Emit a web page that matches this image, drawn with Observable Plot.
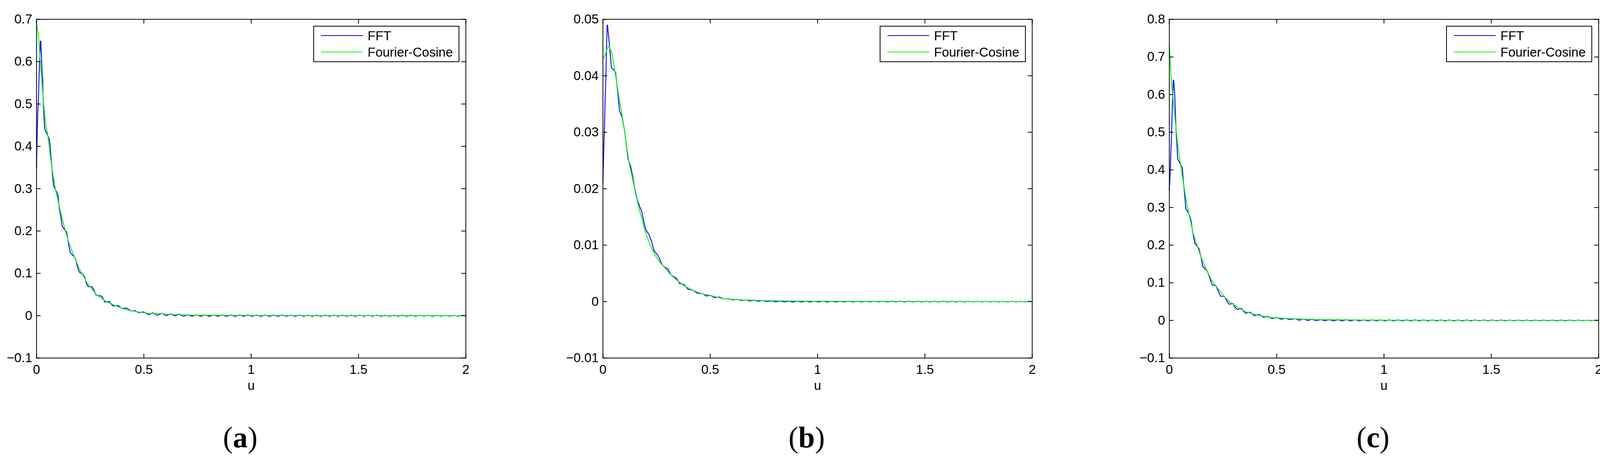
<!DOCTYPE html>
<html>
<head>
<meta charset="utf-8">
<script src="https://cdn.jsdelivr.net/npm/d3@7"></script>
<script src="https://cdn.jsdelivr.net/npm/@observablehq/plot@0.6"></script>
<style>
html, body { margin: 0; padding: 0; background: #fff; }
#root { position: relative; width: 4133px; height: 1180px; overflow: hidden; background: #fff; }
.panel { position: absolute; top: 0; width: 1450px; height: 1180px; }
.panel svg { position: absolute; left: 0; top: 0; }
.legend { position: absolute; left: 802px; top: 66px; width: 374px; height: 93px; box-sizing: border-box;
  border: 2px solid #000; background: #fff; font-family: "Liberation Sans", Arial, sans-serif; font-size: 33px; }
.legend .sw { position: absolute; left: 18px; width: 107px; height: 2px; }
.legend .lb { position: absolute; left: 137px; line-height: 33px; white-space: nowrap; color: #000; }
.caption { position: absolute; left: 0; width: 1230px; text-align: center; top: 1081px;
  font-family: "Liberation Serif", "Times New Roman", serif; font-size: 76px; line-height: 76px; color: #000; }
</style>
</head>
<body>
<div id="root"></div>
<script>
// ---------- shared ticks / labels ----------
const xTicks = [0, 0.5, 1, 1.5, 2];
const xTickLabels = ["0", "0.5", "1", "1.5", "2"];
const yTicksA = [-0.1, 0, 0.1, 0.2, 0.3, 0.4, 0.5, 0.6, 0.7];
const yTickLabelsA = ["\u22120.1", "0", "0.1", "0.2", "0.3", "0.4", "0.5", "0.6", "0.7"];
const yTicksB = [-0.01, 0, 0.01, 0.02, 0.03, 0.04, 0.05];
const yTickLabelsB = ["\u22120.01", "0", "0.01", "0.02", "0.03", "0.04", "0.05"];
const yTicksC = [-0.1, 0, 0.1, 0.2, 0.3, 0.4, 0.5, 0.6, 0.7, 0.8];
const yTickLabelsC = ["\u22120.1", "0", "0.1", "0.2", "0.3", "0.4", "0.5", "0.6", "0.7", "0.8"];
const xLabel = "u";
const seriesNames = ["FFT", "Fourier-Cosine"];
const seriesColors = ["#0000ff", "#00ff00"];
const panelLabels = ["a", "b", "c"];

// ---------- tail grid shared by all three FFT series ----------
const tailU = [
  0.585,0.605,0.625,0.645,0.665,0.685,0.705,0.725,0.745,0.765,
  0.785,0.805,0.825,0.845,0.865,0.885,0.905,0.925,0.945,0.965,
  0.985,1.005,1.025,1.045,1.065,1.085,1.105,1.125,1.145,1.165,
  1.185,1.205,1.225,1.245,1.265,1.285,1.305,1.325,1.345,1.365,
  1.385,1.405,1.425,1.445,1.465,1.485,1.505,1.525,1.545,1.565,
  1.585,1.605,1.625,1.645,1.665,1.685,1.705,1.725,1.745,1.765,
  1.785,1.805,1.825,1.845,1.865,1.885,1.905,1.925,1.945,1.965,
  1.985,2.0];

// ---------- panel (a) ----------
const uBlueA = [0, 0.003, 0.006, 0.009, 0.012, 0.015, 0.018, 0.020, 0.021, 0.023,
  0.026, 0.029, 0.030, 0.033, 0.036, 0.038, 0.046, 0.052, 0.058, 0.063,
  0.067, 0.073, 0.079, 0.085, 0.094, 0.100, 0.106, 0.113, 0.119, 0.131,
  0.140, 0.146, 0.152, 0.158, 0.173, 0.182, 0.192, 0.201, 0.216, 0.225,
  0.234, 0.240, 0.259, 0.268, 0.277, 0.295, 0.304, 0.319, 0.338, 0.344,
  0.356, 0.380, 0.398, 0.420, 0.441, 0.459, 0.477, 0.499, 0.522, 0.542, 0.562];
const vBlueA = [0.350, 0.428, 0.483, 0.511, 0.570, 0.603, 0.648, 0.649, 0.632, 0.616,
  0.575, 0.557, 0.524, 0.488, 0.460, 0.442, 0.432, 0.426, 0.419, 0.405,
  0.377, 0.341, 0.308, 0.301, 0.292, 0.285, 0.253, 0.235, 0.212, 0.203,
  0.198, 0.180, 0.161, 0.148, 0.141, 0.134, 0.113, 0.102, 0.098, 0.090,
  0.074, 0.069, 0.068, 0.060, 0.049, 0.047, 0.046, 0.032, 0.034, 0.030,
  0.023, 0.024, 0.017, 0.018, 0.011, 0.012, 0.007, 0.009, 0.0025, 0.0071, 0.0009];
const tailBlueA = [
  0.0055,0.0,0.0043,-0.0003,0.0037,-0.0012,0.0025,-0.0015,0.0020,-0.0015,
  0.0019,-0.0016,0.0018,-0.0015,0.0018,-0.0015,0.0017,-0.0015,0.0016,-0.0014,
  0.0016,-0.0015,0.0015,-0.0014,0.0015,-0.0014,0.0014,-0.0014,0.0014,-0.0013,
  0.0013,-0.0014,0.0013,-0.0013,0.0012,-0.0013,0.0012,-0.0012,0.0012,-0.0013,
  0.0011,-0.0012,0.0011,-0.0012,0.0011,-0.0012,0.0010,-0.0012,0.0010,-0.0011,
  0.0010,-0.0012,0.0009,-0.0011,0.0009,-0.0011,0.0009,-0.0011,0.0009,-0.0011,
  0.0008,-0.0010,0.0008,-0.0011,0.0008,-0.0010,0.0008,-0.0010,0.0008,-0.0010,
  0.0007,0.0];
const uGreenA = [0, 0.009, 0.018, 0.024, 0.034, 0.043, 0.052, 0.070, 0.088, 0.110,
  0.131, 0.149, 0.173, 0.198, 0.234, 0.277, 0.319, 0.368, 0.417, 0.487,
  0.517, 0.562, 0.616, 0.685, 0.733, 0.832, 0.98, 1.27, 1.6, 2.0];
const vGreenA = [0.690, 0.662, 0.598, 0.557, 0.497, 0.451, 0.428, 0.354, 0.299, 0.249,
  0.207, 0.175, 0.143, 0.113, 0.079, 0.051, 0.035, 0.0234, 0.0142, 0.0077,
  0.0061, 0.0055, 0.0031, 0.0022, 0.0012, 0.0009, 0.0006, 0.0003, 0.0001, 0];

// ---------- panel (b) ----------
const uBlueB = [0, 0.0012, 0.0043, 0.0073, 0.0103, 0.0134, 0.0164, 0.0195, 0.0213, 0.0243,
  0.0286, 0.0347, 0.0395, 0.0499, 0.0590, 0.0651, 0.0712, 0.0772, 0.0894, 0.0985,
  0.1077, 0.1168, 0.1290, 0.1381, 0.1472, 0.1594, 0.1715, 0.1807, 0.1898, 0.1989,
  0.2141, 0.2263, 0.2384, 0.2536, 0.2628, 0.2749, 0.2841, 0.3023, 0.3175, 0.3358,
  0.3449, 0.3571, 0.3783, 0.3966, 0.4209, 0.4392, 0.4635, 0.4818, 0.5000, 0.5213,
  0.5426, 0.5608];
const vBlueB = [0.0210, 0.0232, 0.0274, 0.0308, 0.0359, 0.0393, 0.0444, 0.0489, 0.0490, 0.0478,
  0.0461, 0.0435, 0.0414, 0.0411, 0.0406, 0.0384, 0.0363, 0.0338, 0.0327, 0.0308,
  0.0282, 0.0253, 0.0240, 0.0223, 0.0202, 0.0181, 0.0168, 0.0160, 0.0143, 0.0128,
  0.0119, 0.0107, 0.0090, 0.0083, 0.0077, 0.0066, 0.0062, 0.0058, 0.0047, 0.0043,
  0.0040, 0.0032, 0.0030, 0.0022, 0.0020, 0.0015, 0.0014, 0.0010, 0.0011, 0.0007,
  0.0008, 0.0005];
const tailBlueB = [
  0.0005,0.0003,0.0004,0.0002,0.0003,0.0001,0.00025,0.00005,0.0002,0.0,
  0.00015,-0.00005,0.00012,-0.00007,0.0001,-0.00008,0.0001,-0.00008,0.0001,-0.00008,
  0.00009,-0.00008,0.00009,-0.00008,0.00008,-0.00008,0.00008,-0.00007,0.00008,-0.00007,
  0.00008,-0.00007,0.00007,-0.00007,0.00007,-0.00007,0.00007,-0.00007,0.00007,-0.00006,
  0.00007,-0.00006,0.00006,-0.00006,0.00006,-0.00006,0.00006,-0.00006,0.00006,-0.00006,
  0.00006,-0.00006,0.00006,-0.00006,0.00005,-0.00006,0.00005,-0.00005,0.00005,-0.00005,
  0.00005,-0.00005,0.00005,-0.00005,0.00005,-0.00005,0.00005,-0.00005,0.00005,-0.00005,
  0.00004,0.0];
const uGreenB = [0, 0.0103, 0.0195, 0.0286, 0.0408, 0.0499, 0.0620, 0.0742, 0.0864, 0.0985,
  0.1107, 0.1229, 0.1350, 0.1533, 0.1715, 0.1959, 0.2202, 0.2445, 0.2689, 0.2932,
  0.3175, 0.3479, 0.3783, 0.4088, 0.4392, 0.4696, 0.5000, 0.5304, 0.5608,
  0.65, 0.75, 0.9, 1.1, 1.5, 2.0];
const vGreenB = [0.0429, 0.0437, 0.0448, 0.0452, 0.0441, 0.0422, 0.0393, 0.0363, 0.0338, 0.0308,
  0.0274, 0.0244, 0.0223, 0.0189, 0.0160, 0.0126, 0.0100, 0.0081, 0.0068, 0.0058,
  0.0047, 0.0037, 0.0028, 0.0022, 0.0017, 0.0013, 0.0011, 0.0008, 0.0005,
  0.0003, 0.00018, 0.0001, 0.00004, 0.00001, 0];

// ---------- panel (c) ----------
const uBlueC = [0, 0.0024, 0.0043, 0.0073, 0.0091, 0.0109, 0.0134, 0.0164, 0.0189, 0.0207,
  0.0225, 0.0255, 0.0286, 0.0316, 0.0347, 0.0389, 0.0468, 0.0560, 0.0608, 0.0651,
  0.0712, 0.0772, 0.0864, 0.0955, 0.1016, 0.1077, 0.1137, 0.1198, 0.1290, 0.1381,
  0.1472, 0.1563, 0.1655, 0.1776, 0.1898, 0.1989, 0.2172, 0.2263, 0.2384, 0.2567,
  0.2658, 0.2780, 0.2962, 0.3054, 0.3175, 0.3358, 0.3540, 0.3753, 0.3966, 0.4179,
  0.4392, 0.4574, 0.4787, 0.5000, 0.5213, 0.5426, 0.5608];
const vBlueC = [0.347, 0.372, 0.398, 0.448, 0.474, 0.506, 0.557, 0.607, 0.639, 0.636,
  0.620, 0.595, 0.550, 0.499, 0.474, 0.429, 0.420, 0.410, 0.404, 0.372,
  0.334, 0.296, 0.289, 0.277, 0.264, 0.239, 0.219, 0.204, 0.197, 0.191,
  0.169, 0.143, 0.138, 0.130, 0.111, 0.095, 0.092, 0.080, 0.064, 0.064,
  0.054, 0.043, 0.045, 0.035, 0.029, 0.032, 0.019, 0.022, 0.0127, 0.016,
  0.0083, 0.011, 0.005, 0.0076, 0.003, 0.0057, 0.002];
const tailBlueC = [
  0.0045,0.0005,0.0038,-0.0002,0.0030,-0.0008,0.0024,-0.0011,0.0020,-0.0013,
  0.0019,-0.0014,0.0018,-0.0014,0.0017,-0.0014,0.0016,-0.0014,0.0016,-0.0013,
  0.0015,-0.0014,0.0015,-0.0013,0.0014,-0.0013,0.0014,-0.0013,0.0013,-0.0013,
  0.0013,-0.0012,0.0012,-0.0013,0.0012,-0.0012,0.0012,-0.0012,0.0011,-0.0012,
  0.0011,-0.0012,0.0011,-0.0011,0.0010,-0.0011,0.0010,-0.0011,0.0010,-0.0011,
  0.0009,-0.0011,0.0009,-0.0010,0.0009,-0.0010,0.0009,-0.0010,0.0008,-0.0010,
  0.0008,-0.0010,0.0008,-0.0010,0.0008,-0.0009,0.0008,-0.0009,0.0007,-0.0009,
  0.0007,0.0];
const uGreenC = [0, 0.0043, 0.0073, 0.0134, 0.0195, 0.0255, 0.0316, 0.0408, 0.0499, 0.0620,
  0.0742, 0.0864, 0.0985, 0.1107, 0.1290, 0.1472, 0.1715, 0.1959, 0.2202, 0.2506,
  0.2810, 0.3175, 0.3540, 0.3966, 0.4392, 0.4878, 0.5608,
  0.62, 0.7, 0.8, 0.95, 1.2, 1.6, 2.0];
const vGreenC = [0.732, 0.690, 0.658, 0.614, 0.576, 0.544, 0.506, 0.461, 0.423, 0.378,
  0.334, 0.296, 0.264, 0.232, 0.200, 0.169, 0.137, 0.108, 0.089, 0.067,
  0.049, 0.035, 0.0235, 0.016, 0.011, 0.007, 0.005,
  0.0035, 0.0024, 0.0015, 0.0008, 0.0003, 0.0001, 0];

// ---------- build ----------
function pts(us, vs) { return us.map((u, i) => ({u, v: vs[i]})); }

const panels = [
  {blue: pts(uBlueA, vBlueA).concat(pts(tailU, tailBlueA)), green: pts(uGreenA, vGreenA),
   yTicks: yTicksA, yLabels: yTickLabelsA},
  {blue: pts(uBlueB, vBlueB).concat(pts(tailU, tailBlueB)), green: pts(uGreenB, vGreenB),
   yTicks: yTicksB, yLabels: yTickLabelsB},
  {blue: pts(uBlueC, vBlueC).concat(pts(tailU, tailBlueC)), green: pts(uGreenC, vGreenC),
   yTicks: yTicksC, yLabels: yTickLabelsC}
];

const PANEL_W = 1450, SVG_H = 1040;
const M_LEFT = 93, M_TOP = 49, M_RIGHT = 258, M_BOTTOM = SVG_H - 916;
const PLOT_W = PANEL_W - M_LEFT - M_RIGHT, PLOT_H = SVG_H - M_TOP - M_BOTTOM;
const TICK = 11;
const FONT = "Liberation Sans, Arial, Helvetica, sans-serif";

const root = document.getElementById("root");

panels.forEach((p, k) => {
  const div = document.createElement("div");
  div.className = "panel";
  div.style.left = (k * PANEL_W) + "px";
  root.appendChild(div);

  const fmtY = d => p.yLabels[p.yTicks.indexOf(d)];
  const fmtX = d => xTickLabels[xTicks.indexOf(d)];

  const svg = Plot.plot({
    width: PANEL_W, height: SVG_H,
    marginLeft: M_LEFT, marginTop: M_TOP, marginRight: M_RIGHT, marginBottom: M_BOTTOM,
    style: {fontFamily: FONT, fontSize: "33px", background: "white", color: "black", overflow: "visible"},
    x: {type: "linear", domain: [0, 2]},
    y: {type: "linear", domain: [p.yTicks[0], p.yTicks[p.yTicks.length - 1]]},
    marks: [
      Plot.line(p.blue, {x: "u", y: "v", stroke: seriesColors[0], strokeWidth: 2.2}),
      Plot.line(p.green, {x: "u", y: "v", stroke: seriesColors[1], strokeWidth: 2.2}),
      Plot.tickX(xTicks, {x: d => d, insetTop: PLOT_H - TICK, stroke: "black", strokeWidth: 2}),
      Plot.tickX(xTicks, {x: d => d, insetBottom: PLOT_H - TICK, stroke: "black", strokeWidth: 2}),
      Plot.tickY(p.yTicks, {y: d => d, insetRight: PLOT_W - TICK, stroke: "black", strokeWidth: 2}),
      Plot.tickY(p.yTicks, {y: d => d, insetLeft: PLOT_W - TICK, stroke: "black", strokeWidth: 2}),
      Plot.frame({stroke: "black", strokeWidth: 2}),
      Plot.axisX({ticks: xTicks, tickFormat: fmtX, tickSize: 0, tickPadding: 17, label: null,
                  fontSize: 33, fill: "black"}),
      Plot.axisY({ticks: p.yTicks, tickFormat: fmtY, tickSize: 0, tickPadding: 11, label: null,
                  fontSize: 33, fill: "black"}),
      Plot.text([xLabel], {text: d => d, frameAnchor: "bottom", dy: 71, lineAnchor: "middle",
                  fontSize: 33, fill: "black"})
    ]
  });
  div.appendChild(svg);

  // legend
  const lg = document.createElement("div");
  lg.className = "legend";
  seriesNames.forEach((name, i) => {
    const sw = document.createElement("div");
    sw.className = "sw";
    sw.style.top = (22 + i * 42) + "px";
    sw.style.background = seriesColors[i];
    lg.appendChild(sw);
    const lb = document.createElement("div");
    lb.className = "lb";
    lb.style.top = (7 + i * 42) + "px";
    lb.textContent = name;
    lg.appendChild(lb);
  });
  div.appendChild(lg);

  // caption
  const cap = document.createElement("div");
  cap.className = "caption";
  cap.innerHTML = "(<b>" + panelLabels[k] + "</b>)";
  div.appendChild(cap);
});
</script>
</body>
</html>
